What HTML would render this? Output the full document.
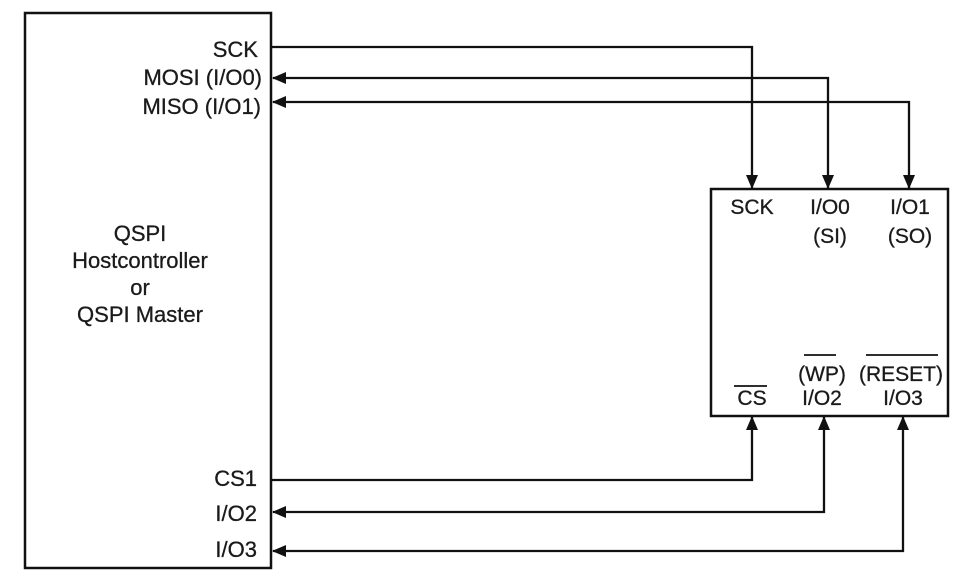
<!DOCTYPE html>
<html><head><style>body{margin:0;background:#fff}svg{display:block}</style></head><body>
<svg width="970" height="586" viewBox="0 0 970 586" xmlns="http://www.w3.org/2000/svg" font-family="Liberation Sans, Arial, sans-serif" font-size="22" fill="#1a1a1a">
<defs><marker id="a" markerWidth="14" markerHeight="12" refX="13" refY="6" orient="auto-start-reverse" markerUnits="userSpaceOnUse"><path d="M0,0 L14,6 L0,12 z" fill="#111"/></marker></defs>
<g stroke="#111" stroke-width="2.5" fill="none">
<rect x="25" y="13" width="246" height="555"/>
<rect x="711" y="189" width="237" height="227"/>
</g>
<g stroke="#111" stroke-width="2.3" fill="none">
<path d="M272,47 H752 V188" marker-end="url(#a)"/>
<path d="M828,188 V78 H273" marker-end="url(#a)" marker-start="url(#a)"/>
<path d="M909,188 V102 H273" marker-end="url(#a)" marker-start="url(#a)"/>
<path d="M272,480 H752 V417" marker-end="url(#a)"/>
<path d="M824,417 V512 H273" marker-end="url(#a)" marker-start="url(#a)"/>
<path d="M903,417 V551 H273" marker-end="url(#a)" marker-start="url(#a)"/>
</g>
<g text-anchor="end" stroke="#1a1a1a" stroke-width="0.3">
<text x="258" y="57">SCK</text>
<text x="262" y="85">MOSI (I/O0)</text>
<text x="261" y="114">MISO (I/O1)</text>
<text x="257" y="486">CS1</text>
<text x="257" y="521">I/O2</text>
<text x="257" y="557">I/O3</text>
</g>
<g text-anchor="middle" stroke="#1a1a1a" stroke-width="0.3">
<text x="140" y="241">QSPI</text>
<text x="140" y="268">Hostcontroller</text>
<text x="140" y="295">or</text>
<text x="140" y="322">QSPI Master</text>
</g>
<g text-anchor="middle" font-size="21" stroke="#1a1a1a" stroke-width="0.3">
<text x="752" y="214">SCK</text>
<text x="830" y="214">I/O0</text>
<text x="830" y="243">(SI)</text>
<text x="910" y="214">I/O1</text>
<text x="910" y="243">(SO)</text>
<text x="752" y="405">CS</text>
<text x="822" y="405">I/O2</text>
<text x="903" y="405">I/O3</text>
<text x="822" y="381">(WP)</text>
<text x="901" y="381">(RESET)</text>
</g>
<g stroke="#111" stroke-width="1.8">
<line x1="734" y1="386" x2="767" y2="386"/>
<line x1="804" y1="355" x2="836" y2="355"/>
<line x1="866" y1="355" x2="938" y2="355"/>
</g>
</svg>
</body></html>
